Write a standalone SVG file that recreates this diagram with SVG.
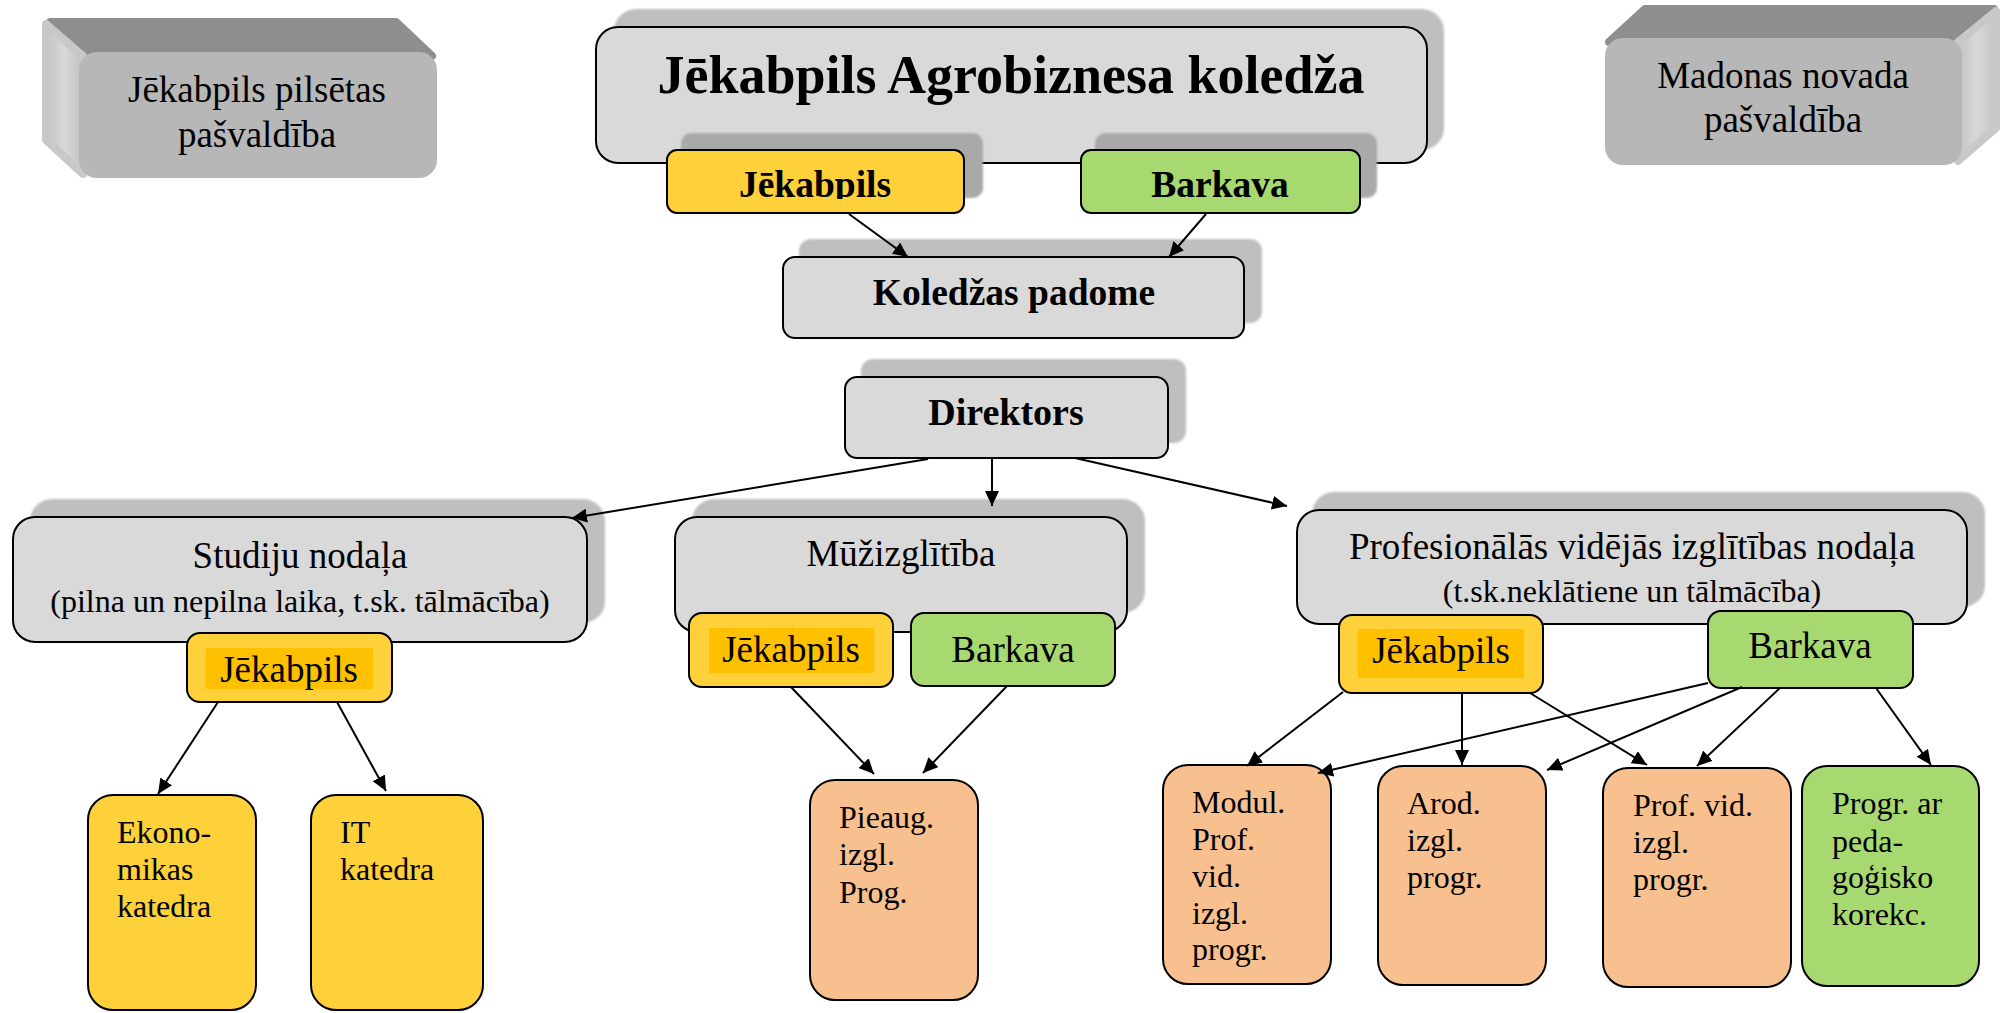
<svg xmlns="http://www.w3.org/2000/svg" width="2002" height="1013" viewBox="0 0 2002 1013">
<style>
text{font-family:"Liberation Serif","Times New Roman",serif;fill:#000}
.b{stroke:#000;stroke-width:2}
.gray{fill:#d9d9d9}
.sh{fill:#bfbfbf}
.sh2{fill:#a9a9a9}
.yel{fill:#fed03a}
.inn{fill:#ffc000}
.grn{fill:#a7d970}
.org{fill:#f9c08f}
.t37{font-size:37px}
.t32{font-size:32px}
.bold{font-weight:bold}
.mid{text-anchor:middle}
.con line{stroke:#000;stroke-width:2;marker-end:url(#ah)}
</style>
<defs>
<marker id="ah" markerWidth="16" markerHeight="14" refX="15" refY="7" orient="auto" markerUnits="userSpaceOnUse"><path d="M0,0 L15,7 L0,14 z" fill="#000"/></marker>
<filter id="soft" x="-5%" y="-5%" width="110%" height="110%"><feGaussianBlur stdDeviation="1.2"/></filter>
<linearGradient id="sideL" x1="0" y1="0" x2="1" y2="0"><stop offset="0" stop-color="#c4c4c4"/><stop offset="0.5" stop-color="#d8d8d8"/><stop offset="1" stop-color="#c2c2c2"/></linearGradient>
<linearGradient id="sideR" x1="0" y1="0" x2="1" y2="0"><stop offset="0" stop-color="#c2c2c2"/><stop offset="0.5" stop-color="#d8d8d8"/><stop offset="1" stop-color="#c4c4c4"/></linearGradient>
<clipPath id="clipJ"><rect x="660" y="140" width="320" height="59"/></clipPath>
</defs>

<g id="jekabpils-pasvaldiba">
<polygon points="50,22 396,22 432,56 84,56" fill="#8e8e8e" stroke="#8e8e8e" stroke-width="8" stroke-linejoin="round"/>
<polygon points="46,24 83,56 83,174 46,140" fill="url(#sideL)" stroke="#c8c8c8" stroke-width="8" stroke-linejoin="round"/>
<rect x="79" y="52" width="358" height="126" rx="18" fill="#b7b7b7"/>
<text class="t37 mid" x="257" y="102">Jēkabpils pilsētas</text>
<text class="t37 mid" x="257" y="147">pašvaldība</text>
</g>

<g id="madonas-pasvaldiba">
<polygon points="1609,42 1645,9 1994,9 1958,42" fill="#8e8e8e" stroke="#8e8e8e" stroke-width="8" stroke-linejoin="round"/>
<polygon points="1958,42 1996,11 1996,128 1958,161" fill="url(#sideR)" stroke="#c8c8c8" stroke-width="8" stroke-linejoin="round"/>
<rect x="1605" y="38" width="357" height="127" rx="18" fill="#b7b7b7"/>
<text class="t37 mid" x="1783" y="88">Madonas novada</text>
<text class="t37 mid" x="1783" y="132">pašvaldība</text>
</g>

<g id="koledza">
<rect x="614" y="9" width="830" height="141" rx="22" class="sh" filter="url(#soft)"/>
<rect x="596" y="27" width="831" height="136" rx="22" class="gray b"/>
<text class="bold mid" font-size="54" x="1011" y="93">Jēkabpils Agrobiznesa koledža</text>
</g>

<g id="kol-jekabpils">
<rect x="681" y="133" width="302" height="65" rx="10" class="sh2" filter="url(#soft)"/>
<rect x="667" y="150" width="297" height="63" rx="10" class="yel b"/>
<text class="bold mid" font-size="37.5" x="815" y="197" clip-path="url(#clipJ)">Jēkabpils</text>
</g>

<g id="kol-barkava">
<rect x="1095" y="133" width="282" height="65" rx="10" class="sh2" filter="url(#soft)"/>
<rect x="1081" y="150" width="279" height="63" rx="10" class="grn b"/>
<text class="bold mid" font-size="37.5" x="1220" y="197">Barkava</text>
</g>

<g id="padome">
<rect x="799" y="239" width="463" height="84" rx="12" class="sh" filter="url(#soft)"/>
<rect x="783" y="257" width="461" height="81" rx="12" class="gray b"/>
<text class="bold mid" font-size="37.5" x="1014" y="305">Koledžas padome</text>
</g>

<g id="direktors">
<rect x="861" y="359" width="325" height="84" rx="12" class="sh" filter="url(#soft)"/>
<rect x="845" y="377" width="323" height="81" rx="12" class="gray b"/>
<text class="bold mid" font-size="38" x="1006" y="425">Direktors</text>
</g>

<g id="studiju">
<rect x="30" y="499" width="575" height="124" rx="22" class="sh" filter="url(#soft)"/>
<rect x="13" y="517" width="574" height="125" rx="22" class="gray b"/>
<text class="t37 mid" x="300" y="568">Studiju nodaļa</text>
<text class="t32 mid" x="300" y="612">(pilna un nepilna laika, t.sk. tālmācība)</text>
</g>
<g id="studiju-jekabpils">
<rect x="187" y="633" width="205" height="69" rx="13" class="yel b"/>
<rect x="206" y="648" width="167" height="41" class="inn"/>
<text class="t37 mid" x="289" y="682">Jēkabpils</text>
</g>

<g id="muzizglitiba">
<rect x="692" y="499" width="453" height="114" rx="22" class="sh" filter="url(#soft)"/>
<rect x="675" y="517" width="452" height="115" rx="22" class="gray b"/>
<text class="t37 mid" x="901" y="566">Mūžizglītība</text>
</g>
<g id="muz-jekabpils">
<rect x="689" y="613" width="204" height="74" rx="13" class="yel b"/>
<rect x="709" y="628" width="165" height="45" class="inn"/>
<text class="t37 mid" x="791" y="662">Jēkabpils</text>
</g>
<g id="muz-barkava">
<rect x="911" y="613" width="204" height="73" rx="13" class="grn b"/>
<text class="t37 mid" x="1013" y="662">Barkava</text>
</g>

<g id="prof-nodala">
<rect x="1312" y="492" width="673" height="115" rx="22" class="sh" filter="url(#soft)"/>
<rect x="1297" y="510" width="670" height="114" rx="22" class="gray b"/>
<text class="t37 mid" x="1632" y="559">Profesionālās vidējās izglītības nodaļa</text>
<text class="t32 mid" x="1632" y="602">(t.sk.neklātiene un tālmācība)</text>
</g>
<g id="prof-jekabpils">
<rect x="1339" y="615" width="204" height="78" rx="13" class="yel b"/>
<rect x="1358" y="629" width="166" height="49" class="inn"/>
<text class="t37 mid" x="1441" y="663">Jēkabpils</text>
</g>
<g id="prof-barkava">
<rect x="1708" y="611" width="205" height="77" rx="13" class="grn b"/>
<text class="t37 mid" x="1810" y="658">Barkava</text>
</g>

<g id="ekonomikas">
<rect x="88" y="795" width="168" height="215" rx="25" class="yel b"/>
<text class="t32" x="117" y="843">Ekono-</text>
<text class="t32" x="117" y="880">mikas</text>
<text class="t32" x="117" y="917">katedra</text>
</g>
<g id="it-katedra">
<rect x="311" y="795" width="172" height="215" rx="25" class="yel b"/>
<text class="t32" x="340" y="843">IT</text>
<text class="t32" x="340" y="880">katedra</text>
</g>
<g id="pieaug">
<rect x="810" y="780" width="168" height="220" rx="25" class="org b"/>
<text class="t32" x="839" y="828">Pieaug.</text>
<text class="t32" x="839" y="865">izgl.</text>
<text class="t32" x="839" y="903">Prog.</text>
</g>
<g id="modul">
<rect x="1163" y="765" width="168" height="219" rx="25" class="org b"/>
<text class="t32" x="1192" y="813">Modul.</text>
<text class="t32" x="1192" y="850">Prof.</text>
<text class="t32" x="1192" y="887">vid.</text>
<text class="t32" x="1192" y="924">izgl.</text>
<text class="t32" x="1192" y="960">progr.</text>
</g>
<g id="arod">
<rect x="1378" y="766" width="168" height="219" rx="25" class="org b"/>
<text class="t32" x="1407" y="814">Arod.</text>
<text class="t32" x="1407" y="851">izgl.</text>
<text class="t32" x="1407" y="888">progr.</text>
</g>
<g id="prof-vid">
<rect x="1603" y="768" width="188" height="219" rx="25" class="org b"/>
<text class="t32" x="1633" y="816">Prof. vid.</text>
<text class="t32" x="1633" y="853">izgl.</text>
<text class="t32" x="1633" y="890">progr.</text>
</g>
<g id="progr-ar">
<rect x="1802" y="766" width="177" height="220" rx="25" class="grn b"/>
<text class="t32" x="1832" y="814">Progr. ar</text>
<text class="t32" x="1832" y="852">peda-</text>
<text class="t32" x="1832" y="888">goģisko</text>
<text class="t32" x="1832" y="925">korekc.</text>
</g>

<g id="connectors" class="con">
<line x1="849" y1="214" x2="908" y2="257"/>
<line x1="1206" y1="214" x2="1169" y2="257"/>
<line x1="928" y1="459" x2="572" y2="518"/>
<line x1="992" y1="459" x2="992" y2="506"/>
<line x1="1075" y1="458" x2="1287" y2="506"/>
<line x1="218" y1="702" x2="158" y2="794"/>
<line x1="337" y1="702" x2="386" y2="791"/>
<line x1="791" y1="687" x2="874" y2="774"/>
<line x1="1007" y1="686" x2="923" y2="773"/>
<line x1="1343" y1="692" x2="1247" y2="766"/>
<line x1="1708" y1="683" x2="1318" y2="773"/>
<line x1="1462" y1="693" x2="1462" y2="765"/>
<line x1="1742" y1="687" x2="1547" y2="770"/>
<line x1="1530" y1="693" x2="1647" y2="765"/>
<line x1="1780" y1="688" x2="1697" y2="766"/>
<line x1="1876" y1="688" x2="1931" y2="765"/>
</g>
</svg>
